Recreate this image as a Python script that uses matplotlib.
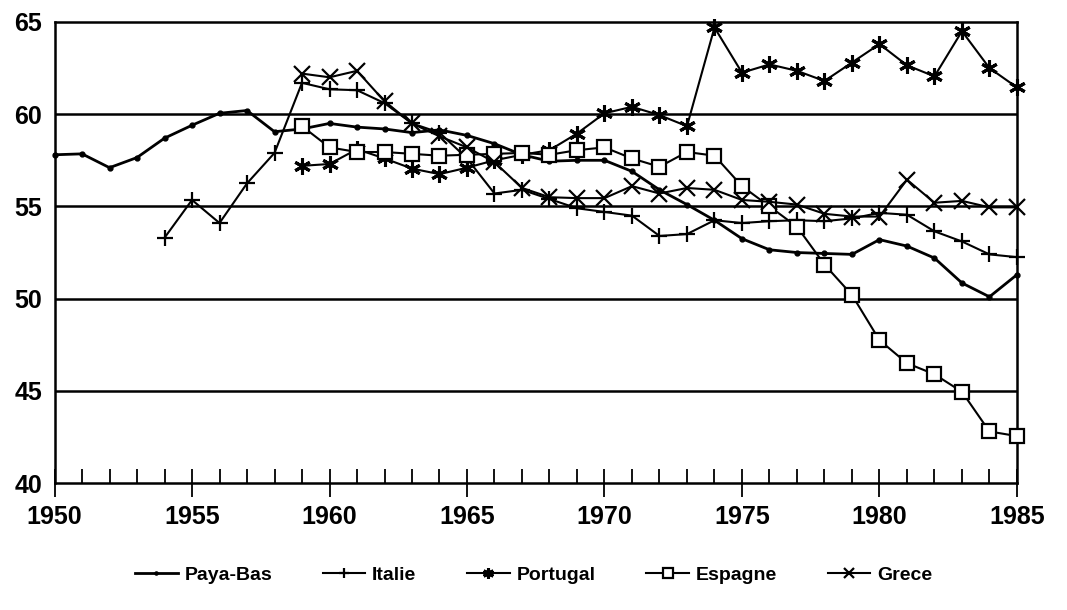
import matplotlib
matplotlib.use("Agg")
import matplotlib.pyplot as plt
from matplotlib.ticker import MultipleLocator

plt.rcParams['font.family'] = ['Liberation Sans', 'DejaVu Sans']
plt.rcParams['font.weight'] = 'bold'

# Valeurs
annees_pb = list(range(1950, 1986))
paya_bas = [57.8, 57.85, 57.1, 57.65, 58.7, 59.4, 60.05, 60.2, 59.05, 59.2,
            59.5, 59.3, 59.2, 59.0, 59.15, 58.85, 58.4, 57.8, 57.45, 57.5,
            57.5, 56.9, 55.9, 55.1, 54.25, 53.25, 52.65, 52.5, 52.45, 52.4,
            53.2, 52.85, 52.2, 50.85, 50.1, 51.3]

annees_it = list(range(1954, 1986))
italie = [53.3, 55.35, 54.1, 56.25, 57.9, 61.7, 61.35, 61.3, 60.6, 59.5,
          59.0, 57.6, 55.7, 55.9, 55.4, 54.9, 54.7, 54.5, 53.4, 53.5,
          54.25, 54.1, 54.2, 54.25, 54.2, 54.35, 54.65, 54.55, 53.65, 53.1,
          52.4, 52.25]

annees_59 = list(range(1959, 1986))
portugal = [57.2, 57.3, 58.1, 57.6, 57.05, 56.75, 57.1, 57.5, 57.8, 58.05,
            58.95, 60.05, 60.4, 59.95, 59.35, 64.7, 62.25, 62.7, 62.35, 61.8,
            62.8, 63.8, 62.65, 62.05, 64.5, 62.5, 61.45]
espagne = [59.35, 58.2, 57.95, 57.95, 57.85, 57.75, 57.8, 57.85, 57.9, 57.8,
           58.05, 58.2, 57.6, 57.15, 57.95, 57.75, 56.1, 55.0, 53.9, 51.85,
           50.2, 47.75, 46.5, 45.9, 44.95, 42.8, 42.55]
grece = [62.2, 62.0, 62.35, 60.7, 59.5, 58.8, 58.2, 57.4, 56.0, 55.5,
         55.45, 55.45, 56.1, 55.7, 56.0, 55.9, 55.35, 55.25, 55.1, 54.6,
         54.45, 54.45, 56.45, 55.2, 55.3, 54.95, 54.95]

fig = plt.figure(figsize=(10.67, 6.10), dpi=100)
ax = fig.add_axes([0.0511, 0.208, 0.902, 0.756])

# lignes horizontales de la grille
for yv in [45, 50, 55, 60]:
    ax.axhline(yv, color='black', lw=1.8, zorder=1)

ax.plot(annees_pb, paya_bas, color='black', lw=2.0, marker='o', ms=3.5,
        label='Paya-Bas', zorder=3, clip_on=False)
ax.plot(annees_it, italie, color='black', lw=1.5, marker='+', ms=12, mew=1.6,
        label='Italie', zorder=3, clip_on=False)
ax.plot(annees_59, portugal, color='black', lw=1.5, marker=(6, 2, 0), ms=12,
        mew=2.2, label='Portugal', zorder=3, clip_on=False)
ax.plot(annees_59, espagne, color='black', lw=1.5, marker='s', ms=10, mew=1.6,
        mfc='white', label='Espagne', zorder=3, clip_on=False)
ax.plot(annees_59, grece, color='black', lw=1.5, marker='x', ms=11, mew=1.6,
        label='Grece', zorder=3, clip_on=False)

ax.set_xlim(1950, 1985)
ax.set_ylim(40, 65)
ax.xaxis.set_major_locator(MultipleLocator(5))
ax.xaxis.set_minor_locator(MultipleLocator(1))
ax.yaxis.set_major_locator(MultipleLocator(5))
ax.tick_params(axis='x', which='major', direction='inout', length=20, width=1.3,
               labelsize=18, pad=6)
ax.tick_params(axis='x', which='minor', direction='in', length=10, width=1.3)
ax.tick_params(axis='y', length=0, labelsize=18, pad=9)
for lab in ax.get_xticklabels() + ax.get_yticklabels():
    lab.set_fontweight('bold')
for sp in ax.spines.values():
    sp.set_linewidth(1.8)

fig.legend(loc='center', bbox_to_anchor=(0.5, 0.057), ncol=5, frameon=False,
           handlelength=2.2, columnspacing=2.6, handletextpad=0.35,
           markerscale=0.65, prop={'weight': 'bold', 'size': 14})

fig.savefig('out.png', dpi=100)
